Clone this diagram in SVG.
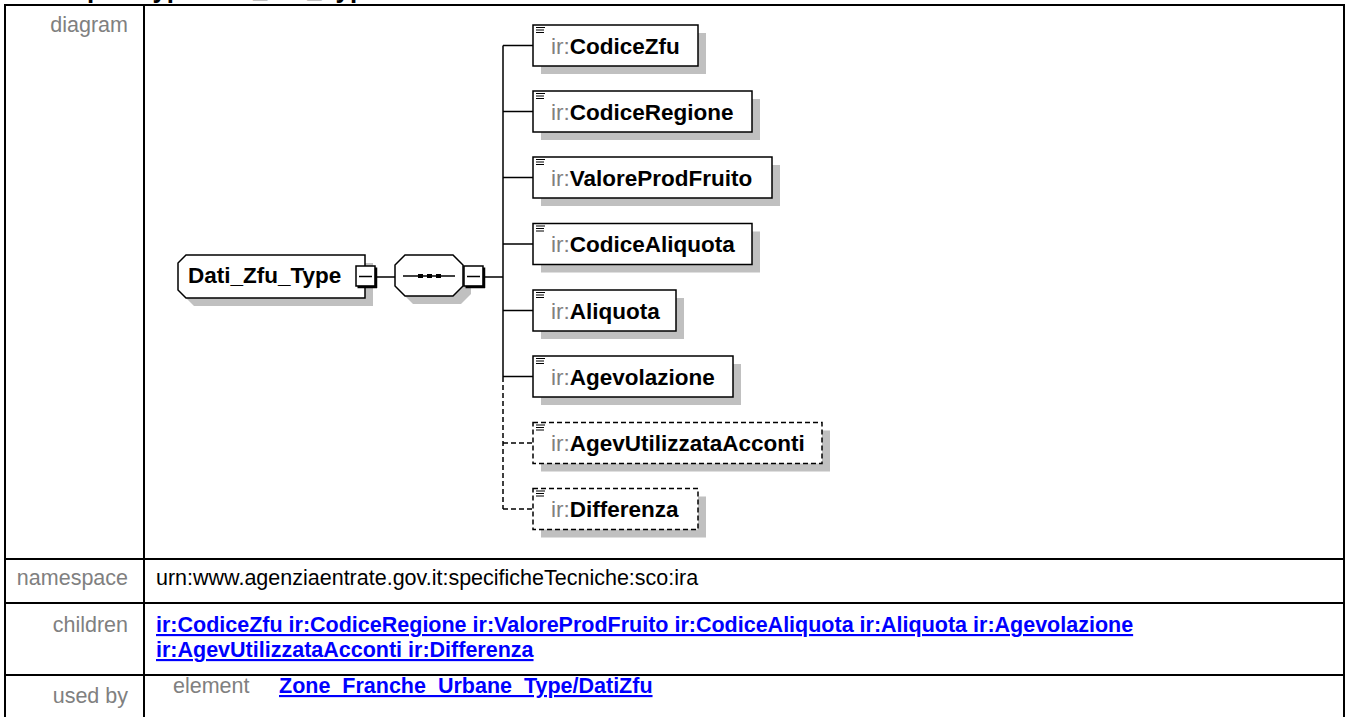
<svg xmlns="http://www.w3.org/2000/svg" width="1346" height="717" viewBox="0 0 1346 717">
<style>
text{font-family:"Liberation Sans",Arial,sans-serif}
.lbl{font-size:21.5px;fill:#808080}
.val{font-size:21.5px;fill:#000}
.lnk{font-size:21.5px;fill:#0000ff;font-weight:bold;text-decoration:underline}
.grid{stroke:#000;stroke-width:2;fill:none}
.shadow{fill:#c0c0c0}
.box{fill:#fff;stroke:#000;stroke-width:1.5}
.obox{fill:#fff;stroke:#000;stroke-width:1.5;stroke-dasharray:5 3}
.nm{font-size:22.5px;font-weight:bold;fill:#000}
.ns{font-weight:normal;fill:#808080}
.ico{stroke:#000;stroke-width:1.2}
.conn{stroke:#000;stroke-width:1.5;fill:none}
.dash{stroke:#000;stroke-width:1.5;fill:none;stroke-dasharray:5 3}
</style>
<defs>
<g id="icon"><path class="ico" d="M3,2.5H12M3,5H11M3,7.5H11"/></g>
<g id="minus"><rect x="0" y="0" width="19" height="20" fill="#fff" stroke="#000" stroke-width="1.5"/><path d="M20,1.5V22M1.5,21H21" stroke="#000" stroke-width="2.5"/><path d="M3,10.5H16" stroke="#000" stroke-width="1.5"/></g>
</defs>
<rect width="1346" height="717" fill="#fff"/>
<text x="34" y="-3" font-size="27" font-weight="bold" textLength="346" lengthAdjust="spacingAndGlyphs">complexType Dati_Zfu_Type</text>
<g id="table">
<path class="grid" d="M4,5H1345M5,4V717M144,5V717M1344,4V717M4,559H1345M4,603H1345M4,675H1345"/>
<text class="lbl" x="128" y="32" text-anchor="end">diagram</text>
<text class="lbl" x="128" y="585" text-anchor="end">namespace</text>
<text class="val" x="156" y="585">urn:www.agenziaentrate.gov.it:specificheTecniche:sco:ira</text>
<text class="lbl" x="128" y="632" text-anchor="end">children</text>
<text class="lnk" x="156" y="632">ir:CodiceZfu ir:CodiceRegione ir:ValoreProdFruito ir:CodiceAliquota ir:Aliquota ir:Agevolazione</text>
<text class="lnk" x="156" y="657">ir:AgevUtilizzataAcconti ir:Differenza</text>
<text class="lbl" x="128" y="703" text-anchor="end">used by</text>
<text class="lbl" x="173" y="693">element</text>
<text class="lnk" x="279" y="693">Zone_Franche_Urbane_Type/DatiZfu</text>
</g>
<g id="connectors">
<path class="conn" d="M377,277H395M485,277H503M503,45.5V377M503,45.5H533M503,111.5H533M503,177.5H533M503,244H533M503,310.5H533M503,376.5H533"/>
<path class="dash" d="M503,377V509M503,443H533M503,509H533"/>
</g>
<g id="node-Dati_Zfu_Type">
<path class="shadow" d="M194,263H373V306H194L186,298V271Z"/>
<path class="box" d="M186,255H365V298H186L178,290V263Z"/>
<text class="nm" x="188" y="283">Dati_Zfu_Type</text>
<use href="#minus" x="356" y="266"/>
</g>
<g id="node-sequence">
<path class="shadow" d="M413,263H461L471,273V294L461,304H413L403,294V273Z"/>
<path class="box" d="M405,255H453L463,265V286L453,296H405L395,286V265Z"/>
<path d="M403,276H455" stroke="#000" stroke-width="1.5"/>
<rect x="418" y="274" width="5" height="4" fill="#000"/>
<rect x="427" y="274" width="5" height="4" fill="#000"/>
<rect x="436" y="274" width="5" height="4" fill="#000"/>
<use href="#minus" x="464" y="266"/>
</g>
<g id="node-CodiceZfu">
<rect class="shadow" x="541" y="33" width="165" height="41"/>
<rect class="box" x="533" y="25" width="165" height="41"/>
<use href="#icon" x="533" y="25"/>
<text class="nm" x="551" y="53.5"><tspan class="ns">ir:</tspan>CodiceZfu</text>
</g>
<g id="node-CodiceRegione">
<rect class="shadow" x="541" y="99" width="219" height="41"/>
<rect class="box" x="533" y="91" width="219" height="41"/>
<use href="#icon" x="533" y="91"/>
<text class="nm" x="551" y="119.5"><tspan class="ns">ir:</tspan>CodiceRegione</text>
</g>
<g id="node-ValoreProdFruito">
<rect class="shadow" x="541" y="165" width="239" height="41"/>
<rect class="box" x="533" y="157" width="239" height="41"/>
<use href="#icon" x="533" y="157"/>
<text class="nm" x="551" y="185.5"><tspan class="ns">ir:</tspan>ValoreProdFruito</text>
</g>
<g id="node-CodiceAliquota">
<rect class="shadow" x="541" y="231.5" width="219" height="41"/>
<rect class="box" x="533" y="223.5" width="219" height="41"/>
<use href="#icon" x="533" y="223.5"/>
<text class="nm" x="551" y="252"><tspan class="ns">ir:</tspan>CodiceAliquota</text>
</g>
<g id="node-Aliquota">
<rect class="shadow" x="541" y="298" width="143" height="41"/>
<rect class="box" x="533" y="290" width="143" height="41"/>
<use href="#icon" x="533" y="290"/>
<text class="nm" x="551" y="318.5"><tspan class="ns">ir:</tspan>Aliquota</text>
</g>
<g id="node-Agevolazione">
<rect class="shadow" x="541" y="364" width="200" height="41"/>
<rect class="box" x="533" y="356" width="200" height="41"/>
<use href="#icon" x="533" y="356"/>
<text class="nm" x="551" y="384.5"><tspan class="ns">ir:</tspan>Agevolazione</text>
</g>
<g id="node-AgevUtilizzataAcconti">
<rect class="shadow" x="541" y="430.5" width="289" height="41"/>
<rect class="obox" x="533" y="422.5" width="289" height="41"/>
<use href="#icon" x="533" y="422.5"/>
<text class="nm" x="551" y="451"><tspan class="ns">ir:</tspan>AgevUtilizzataAcconti</text>
</g>
<g id="node-Differenza">
<rect class="shadow" x="541" y="496.5" width="165" height="41"/>
<rect class="obox" x="533" y="488.5" width="165" height="41"/>
<use href="#icon" x="533" y="488.5"/>
<text class="nm" x="551" y="517"><tspan class="ns">ir:</tspan>Differenza</text>
</g>
</svg>
